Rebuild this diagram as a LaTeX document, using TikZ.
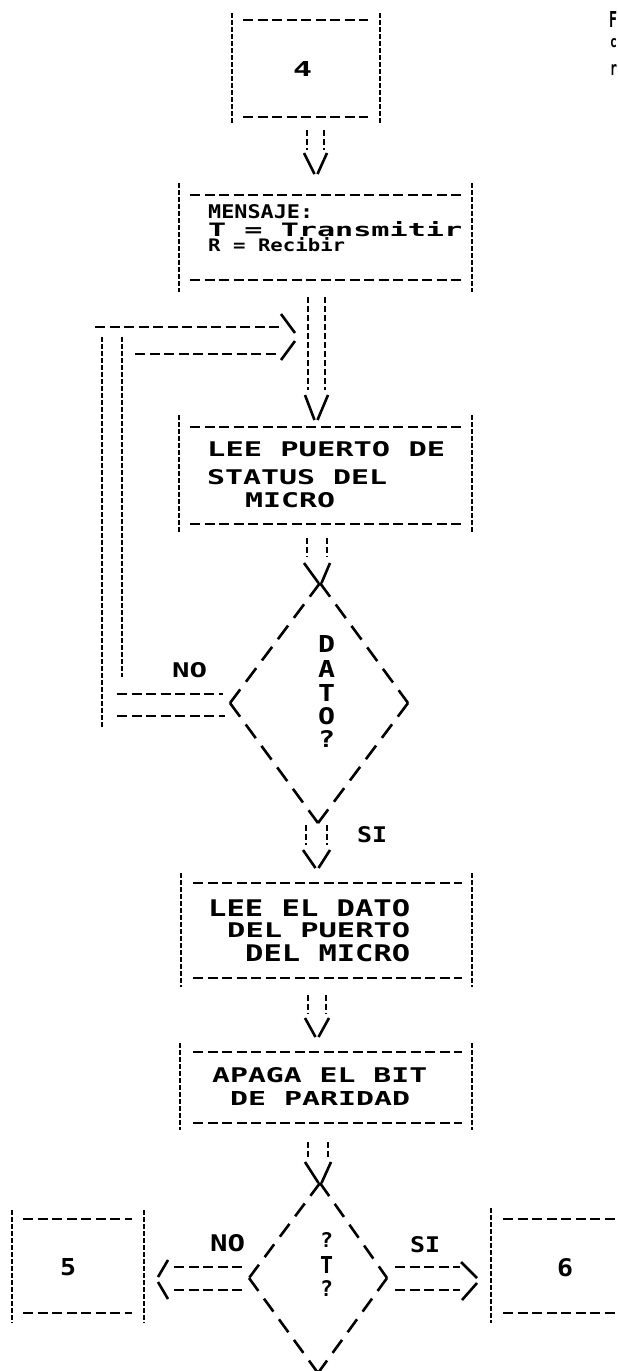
\documentclass[tikz,border=0pt]{standalone}
\usepackage{fontspec}
\usepackage{graphicx}
\newfontfamily\dotfont{DejaVu Sans Mono}
\newcommand\fit[3]{\resizebox{#1pt}{#2pt}{\raisebox{0pt}[\height][0pt]{#3}}}
% ascii box: name, xl, xr, ytop, ybot, y of top dashes, y of bottom dashes, x1, x2 of dashes
\newcommand\abox[9]{%
  \coordinate (#1-nw) at (#2,#4); \coordinate (#1-sw) at (#2,#5);
  \coordinate (#1-ne) at (#3,#4); \coordinate (#1-se) at (#3,#5);
  \coordinate (#1-tl) at (#8,#6); \coordinate (#1-tr) at (#9,#6);
  \coordinate (#1-bl) at (#8,#7); \coordinate (#1-br) at (#9,#7);
  \draw[vl] (#1-nw) -- (#1-sw); \draw[vl] (#1-ne) -- (#1-se);
  \draw[hl] (#1-tl) -- (#1-tr); \draw[hl] (#1-bl) -- (#1-br);}
% pipe arrow: name, xl, xr, y1, y2, y of stroke tops, tip x, tip y
\newcommand\pipearrow[8]{%
  \coordinate (#1-a) at (#2,#4); \coordinate (#1-b) at (#2,#5);
  \coordinate (#1-c) at (#3,#4); \coordinate (#1-d) at (#3,#5);
  \coordinate (#1-e) at (#2-3,#6); \coordinate (#1-f) at (#3+3,#6);
  \coordinate (#1-t) at (#7-1.5,#8); \coordinate (#1-u) at (#7+1.5,#8);
  \draw[pl] (#1-a) -- (#1-b); \draw[pl] (#1-c) -- (#1-d);
  \draw[ah] (#1-e) -- (#1-t); \draw[ah] (#1-f) -- (#1-u);}
\begin{document}
\begin{tikzpicture}[x=1pt,y=-1pt,
  hl/.style={line width=1.8pt, dash pattern=on 10pt off 4.5pt},
  vl/.style={line width=2.4pt, dash pattern=on 5pt off 2pt},
  pl/.style={line width=2.4pt, dash pattern=on 6pt off 3pt},
  ah/.style={line width=2.6pt},
  dla/.style={line width=2.6pt, dash pattern=on 17pt off 9.6pt},
  dlb/.style={line width=2.6pt, dash pattern=on 16pt off 9.5pt},
  txt/.style={anchor=south west, inner sep=0pt, font=\dotfont\bfseries}]
\useasboundingbox (0,0) rectangle (618,1371);
\fill[white] (0,0) rectangle (618,1371);

% boxes
\abox{b4}{232}{380}{13}{123}{20}{117}{243}{368}
\abox{bm}{179}{472}{183}{292}{195}{280}{190}{462}
\abox{bl}{179}{472}{415}{533}{427}{524}{190}{462}
\abox{be}{181}{472}{873}{987}{883}{978}{193}{462}
\abox{ba}{180}{472}{1043}{1130}{1052}{1123}{193}{462}
\abox{b5}{12}{144}{1210}{1323}{1219}{1313}{23}{132}
\abox{b6}{491}{650}{1208}{1323}{1219}{1313}{503}{640}

% texts
\node[txt] (t4) at (293,77) {\fit{19}{15}{4}};
\node[txt] (m1) at (208,219) {\fit{105}{14}{MENSAJE:}};
\node[txt] (m2) at (208,237) {\fit{254}{15}{T = Transmitir}};
\node[txt] (m3) at (208,252) {\fit{137}{14}{R = Recibir}};
\node[txt] (l1) at (207,457) {\fit{238}{15}{LEE PUERTO DE}};
\node[txt] (l2) at (207,485) {\fit{180}{15}{STATUS DEL}};
\node[txt] (l3) at (245,508) {\fit{90}{15}{MICRO}};
\node[txt] (dD) at (318,653) {\fit{17}{17}{D}};
\node[txt] (dA) at (318,678) {\fit{17}{17}{A}};
\node[txt] (dT) at (318,702) {\fit{17}{17}{T}};
\node[txt] (dO) at (318,725) {\fit{17}{17}{O}};
\node[txt] (dQ) at (318,748) {\fit{17}{17}{?}};
\node[txt] (no1) at (172,678) {\fit{35}{15}{NO}};
\node[txt] (si1) at (357,843) {\fit{30}{16}{SI}};
\node[txt] (e1) at (208,917) {\fit{202}{17}{LEE EL DATO}};
\node[txt] (e2) at (227,938) {\fit{183}{15}{DEL PUERTO}};
\node[txt] (e3) at (245,962) {\fit{165}{17}{DEL MICRO}};
\node[txt] (a1) at (212,1083) {\fit{215}{15}{APAGA EL BIT}};
\node[txt] (a2) at (230,1106) {\fit{180}{14}{DE PARIDAD}};
\node[txt] (q1) at (320,1248) {\fit{13}{15}{?}};
\node[txt] (q2) at (320,1274) {\fit{13}{17}{T}};
\node[txt] (q3) at (320,1297) {\fit{13}{16}{?}};
\node[txt] (no2) at (210,1252) {\fit{35}{17}{NO}};
\node[txt] (si2) at (410,1253) {\fit{30}{16}{SI}};
\node[txt] (n5) at (60,1276) {\fit{16}{17}{5}};
\node[txt] (n6) at (557,1277) {\fit{16}{18}{6}};
\node[txt] (c1) at (609,28) {\fit{8}{16}{F}};
\node[txt] (c2) at (610,48) {\fit{7}{9}{c}};
\node[txt] (c3) at (610,76) {\fit{7}{11}{r}};

% vertical connectors
\pipearrow{p1}{307}{324}{130}{150}{153}{316}{174}
\pipearrow{p2}{308}{325}{297}{390}{395}{316}{420}
\pipearrow{p3}{307}{327}{538}{557}{563}{320}{583}
\pipearrow{p4}{306}{327}{825}{845}{850}{317}{868}
\pipearrow{p5}{308}{326}{995}{1014}{1018}{317}{1037}
\pipearrow{p6}{308}{328}{1142}{1158}{1162}{320}{1183}

% diamond 1
\coordinate (d1t) at (320,583); \coordinate (d1l) at (230,703);
\coordinate (d1r) at (408,703); \coordinate (d1b) at (318,823);
\draw[dla] (d1t) -- (d1l); \draw[dla] (d1t) -- (d1r);
\draw[dla] (d1l) -- (d1b); \draw[dla] (d1r) -- (d1b);

% diamond 2
\coordinate (d2t) at (320,1183); \coordinate (d2l) at (249,1278);
\coordinate (d2r) at (387,1278); \coordinate (d2b) at (318,1373);
\draw[dlb] (d2t) -- (d2l); \draw[dlb] (d2t) -- (d2r);
\draw[dlb] (d2l) -- (d2b); \draw[dlb] (d2r) -- (d2b);

% feedback loop (NO of diamond 1)
\coordinate (f1) at (95,327); \coordinate (f2) at (279,327);
\coordinate (f3) at (135,354); \coordinate (f4) at (277,354);
\coordinate (fa) at (281,314); \coordinate (ft) at (295,333);
\coordinate (fu) at (295,341); \coordinate (fb) at (281,360);
\coordinate (fo1) at (102,337); \coordinate (fo2) at (102,727);
\coordinate (fi1) at (122,337); \coordinate (fi2) at (122,677);
\coordinate (fn1) at (117,694); \coordinate (fn2) at (223,694);
\coordinate (fn3) at (117,716); \coordinate (fn4) at (225,716);
\draw[hl] (f1) -- (f2); \draw[hl] (f3) -- (f4);
\draw[ah] (fa) -- (ft); \draw[ah] (fu) -- (fb);
\draw[vl] (fo1) -- (fo2); \draw[vl] (fi1) -- (fi2);
\draw[hl] (fn1) -- (fn2); \draw[hl] (fn3) -- (fn4);

% NO of diamond 2 to box 5
\coordinate (g1) at (173,1267); \coordinate (g2) at (242,1267);
\coordinate (g3) at (173,1290); \coordinate (g4) at (242,1290);
\coordinate (ga) at (168,1260); \coordinate (gt) at (158,1277);
\coordinate (gu) at (158,1282); \coordinate (gb) at (168,1299);
\draw[hl] (g2) -- (g1); \draw[hl] (g4) -- (g3);
\draw[ah] (ga) -- (gt); \draw[ah] (gu) -- (gb);

% SI of diamond 2 to box 6
\coordinate (h1) at (395,1267); \coordinate (h2) at (460,1267);
\coordinate (h3) at (395,1290); \coordinate (h4) at (460,1290);
\coordinate (ha) at (461,1262); \coordinate (ht) at (477,1278);
\coordinate (hu) at (477,1283); \coordinate (hb) at (462,1300);
\draw[hl] (h1) -- (h2); \draw[hl] (h3) -- (h4);
\draw[ah] (ha) -- (ht); \draw[ah] (hu) -- (hb);
\end{tikzpicture}
\end{document}
